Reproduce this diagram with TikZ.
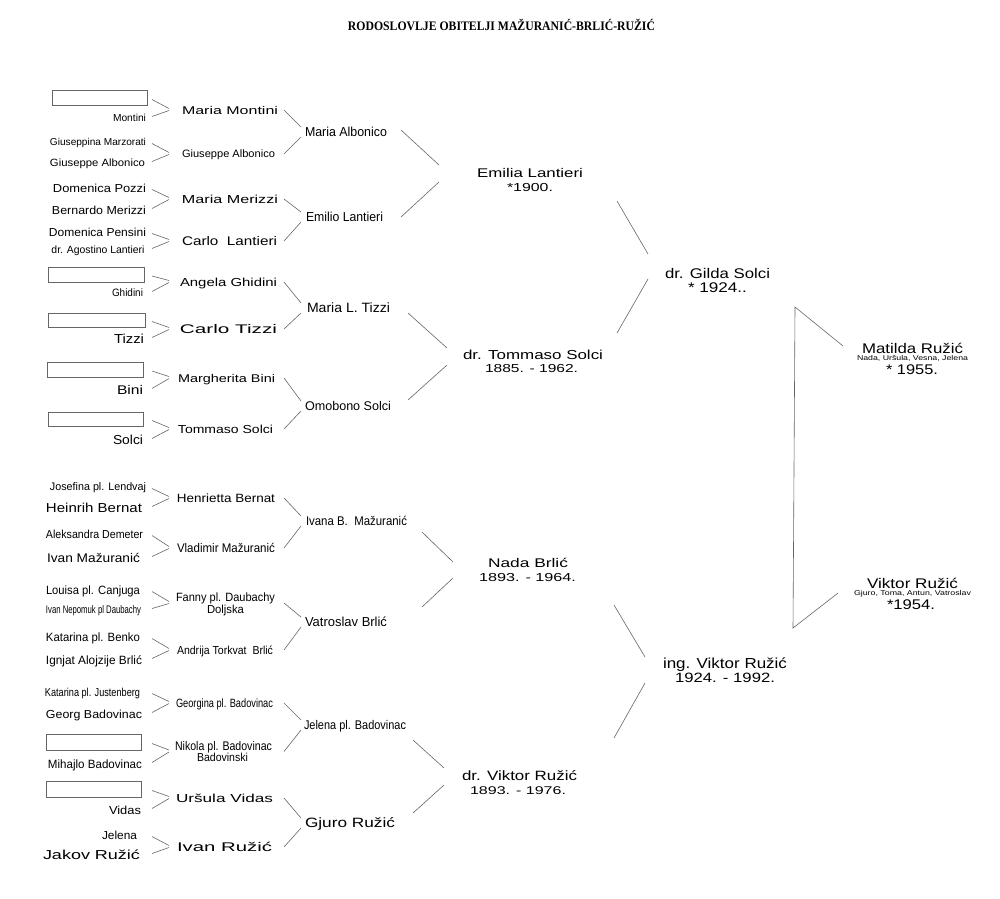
\documentclass[tikz,border=0pt]{standalone}
\usepackage{fontspec}
\usepackage{graphicx}
\setmainfont{Liberation Sans}
\newfontfamily\titlefont{Liberation Serif}
\usetikzlibrary{calc}
\newcommand\tw[2]{\resizebox{#1pt}{\height}{#2}}
\tikzset{
  txt/.style={inner sep=0pt, outer sep=0pt, anchor=center, text=black, text depth=0pt},
  con/.style={draw=black!60, line width=0.6pt},
  emptybox/.style={draw=black!60, line width=0.7pt, inner sep=0pt, minimum width=95pt, minimum height=15pt}
}
\newcommand\nm[6]{\node[txt, font=\fontsize{#5}{#5}\selectfont, text height=#5pt*0.716] (#1) at (#2,#3) {\tw{#4}{#6}};}
\newcommand\chev[9]{%
  \draw[con] ($(#1 -| #4,0)+(0,#6)$) -- ($(#3 -| #5,0)+(0,#7)$);
  \draw[con] ($(#2 -| #4,0)+(0,#8)$) -- ($(#3 -| #5,0)+(0,#9)$);}
\newcommand\chevA[3]{\chev{#1}{#2}{#3}{152}{169}{1.5}{-1.5}{-1.5}{0.5}}
\newcommand\chevB[3]{\chev{#1}{#2}{#3}{284}{301}{0}{-5}{0}{5}}
\begin{document}
\begin{tikzpicture}[x=1pt,y=-1pt]
\fill[white] (0,0) rectangle (1000,898);
\useasboundingbox (0,0) rectangle (1000,898);

% title
\node[txt, font=\fontsize{13}{13}\selectfont\titlefont\bfseries, text height=13pt*0.662] (title) at (501.5,26.5) {\tw{307}{RODOSLOVLJE OBITELJI MAŽURANIĆ-BRLIĆ-RUŽIĆ}};

% empty boxes (column 1)
\node[emptybox] (box1) at (99.5,98) {};
\node[emptybox, minimum width=96pt] (box2) at (96,274.5) {};
\node[emptybox, minimum width=97pt, minimum height=14pt] (box3) at (96.5,320) {};
\node[emptybox, minimum width=96pt] (box4) at (95,369.5) {};
\node[emptybox, minimum height=14pt] (box5) at (95.5,419) {};
\node[emptybox, minimum height=16pt] (box6) at (93.5,742) {};
\node[emptybox, minimum height=16pt] (box7) at (93.5,789) {};

% column 1
\nm{montini}{129.5}{118}{33}{10.2}{Montini}
\nm{giuseppina}{98}{142}{96}{10}{Giuseppina Marzorati}
\nm{giuseppeA}{97.5}{163}{95}{10.5}{Giuseppe Albonico}
\nm{domenicaPo}{99.5}{188}{93}{11.6}{Domenica Pozzi}
\nm{bernardo}{99}{210}{94}{11.6}{Bernardo Merizzi}
\nm{domenicaPe}{97.5}{232}{97}{11.6}{Domenica Pensini}
\nm{agostino}{98}{250}{93}{10.5}{dr. Agostino Lantieri}
\nm{ghidini}{127.5}{293}{31}{10.7}{Ghidini}
\nm{tizzi}{129}{339}{30}{13}{Tizzi}
\nm{bini}{130}{390}{26}{12.6}{Bini}
\nm{solci}{128}{440}{30}{13}{Solci}
\nm{josefina}{98}{487}{96}{11}{Josefina pl. Lendvaj}
\nm{heinrih}{94}{508}{96}{13}{Heinrih Bernat}
\nm{aleksandra}{94.5}{534}{97}{11.6}{Aleksandra Demeter}
\nm{ivanM}{93.5}{558}{93}{12.5}{Ivan Mažuranić}
\nm{louisa}{93}{590}{94}{12}{Louisa pl. Canjuga}
\nm{nepomuk}{93.5}{610}{95}{11}{Ivan Nepomuk pl Daubachy}
\nm{katarinaB}{93}{637}{94}{12}{Katarina pl. Benko}
\nm{ignjat}{94}{660}{96}{12}{Ignjat Alojzije Brlić}
\nm{katarinaJ}{92.5}{692}{95}{11.5}{Katarina pl. Justenberg}
\nm{georg}{94}{714}{96}{11.6}{Georg Badovinac}
\nm{mihajlo}{95}{764}{94}{12}{Mihajlo Badovinac}
\nm{vidas}{125}{810}{32}{11.6}{Vidas}
\nm{jelena}{119.5}{835}{35}{11.6}{Jelena}
\nm{jakov}{91.5}{855}{97}{13}{Jakov Ružić}

% column 2
\nm{mariaMontini}{230}{110}{96}{11.2}{Maria Montini}
\nm{giuseppeB}{228.5}{154}{93}{10.7}{Giuseppe Albonico}
\nm{mariaMerizzi}{230}{199}{96}{11.6}{Maria Merizzi}
\nm{carloL}{229.5}{241}{95}{12.5}{Carlo\ \ Lantieri}
\nm{angela}{228.5}{282}{97}{11.6}{Angela Ghidini}
\nm{carloT}{228.5}{329}{97}{12.5}{Carlo Tizzi}
\nm{margherita}{226.5}{378}{97}{11.2}{Margherita Bini}
\nm{tommasoS}{225.5}{429}{95}{11.6}{Tommaso Solci}
\nm{henrietta}{226}{498}{98}{12}{Henrietta Bernat}
\nm{vladimir}{226}{548}{98}{12.5}{Vladimir Mažuranić}
\nm{fanny}{225.5}{597}{99}{12}{Fanny pl. Daubachy}
\nm{fanny2}{225.5}{609}{37}{11.6}{Doljska}
\nm{andrija}{225}{650}{96}{11.6}{Andrija Torkvat\ \ Brlić}
\nm{georgina}{224.5}{703}{97}{12}{Georgina pl. Badovinac}
\nm{nikola}{223.5}{746}{97}{12.5}{Nikola pl. Badovinac}
\nm{nikola2}{222.5}{757}{51}{11.6}{Badovinski}
\nm{ursula}{224.5}{798}{97}{11.6}{Uršula Vidas}
\nm{ivanR}{224.5}{847}{95}{12.6}{Ivan Ružić}
\coordinate (fannyM) at ($(fanny)!0.5!(fanny2)$);
\coordinate (nikolaM) at ($(nikola)!0.5!(nikola2)$);

% column 3
\nm{mariaAlb}{346}{132}{82}{13}{Maria Albonico}
\nm{emilio}{344.5}{217}{77}{13}{Emilio Lantieri}
\nm{mariaLT}{348.5}{308}{83}{13.5}{Maria L. Tizzi}
\nm{omobono}{348}{406}{86}{12.6}{Omobono Solci}
\nm{ivana}{356.5}{521}{101}{12.6}{Ivana B.\ \ Mažuranić}
\nm{vatroslav}{346}{622}{82}{13}{Vatroslav Brlić}
\nm{jelenaB}{355}{725}{102}{12.6}{Jelena pl. Badovinac}
\nm{gjuro}{350}{823}{90}{13.5}{Gjuro Ružić}

% column 4
\nm{emilia}{530}{173}{106}{12.6}{Emilia Lantieri}
\nm{emilia2}{530}{187}{46}{11.6}{*1900.}
\nm{tommasoD}{533}{355}{140}{13}{dr. Tommaso Solci}
\nm{tommasoD2}{531.5}{368}{93}{11.6}{1885. - 1962.}
\nm{nada}{528}{563}{80}{12.6}{Nada Brlić}
\nm{nada2}{527.5}{577}{97}{11.6}{1893. - 1964.}
\nm{viktorD}{519.5}{776}{115}{13.5}{dr. Viktor Ružić}
\nm{viktorD2}{518}{790}{96}{11.2}{1893. - 1976.}

% column 5
\nm{gilda}{717.5}{273}{105}{14}{dr. Gilda Solci}
\nm{gilda2}{717.5}{287}{59}{14}{* 1924..}
\nm{viktorI}{725}{663}{124}{14.5}{ing. Viktor Ružić}
\nm{viktorI2}{725}{678}{100}{13.5}{1924. - 1992.}

% column 6
\nm{matilda}{912.5}{348}{101}{14}{Matilda Ružić}
\nm{matilda2}{912.5}{358}{111}{7}{Nada, Uršula, Vesna, Jelena}
\nm{matilda3}{912}{369}{52}{14}{* 1955.}
\nm{viktor}{912.5}{583}{91}{14}{Viktor Ružić}
\nm{viktor2}{912.5}{593}{117}{7}{Gjuro, Toma, Antun, Vatroslav}
\nm{viktor3}{911}{604}{48}{14}{*1954.}

% connectors column 1 -> 2
\chevA{box1}{montini}{mariaMontini}
\chevA{giuseppina}{giuseppeA}{giuseppeB}
\chevA{domenicaPo}{bernardo}{mariaMerizzi}
\chevA{domenicaPe}{agostino}{carloL}
\chevA{box2}{ghidini}{angela}
\chevA{box3}{tizzi}{carloT}
\chevA{box4}{bini}{margherita}
\chevA{box5}{solci}{tommasoS}
\chevA{josefina}{heinrih}{henrietta}
\chevA{aleksandra}{ivanM}{vladimir}
\chevA{louisa}{nepomuk}{fannyM}
\chevA{katarinaB}{ignjat}{andrija}
\chevA{katarinaJ}{georg}{georgina}
\chevA{box6}{mihajlo}{nikolaM}
\chevA{box7}{vidas}{ursula}
\chevA{jelena}{jakov}{ivanR}

% connectors column 2 -> 3
\chevB{mariaMontini}{giuseppeB}{mariaAlb}
\chevB{mariaMerizzi}{carloL}{emilio}
\chevB{angela}{carloT}{mariaLT}
\chevB{margherita}{tommasoS}{omobono}
\chevB{henrietta}{vladimir}{ivana}
\chevB{fannyM}{andrija}{vatroslav}
\chevB{georgina}{nikolaM}{jelenaB}
\chevB{ursula}{ivanR}{gjuro}

% connectors column 3 -> 4
\chev{mariaAlb}{emilio}{emilia}{401}{439}{-2}{-8}{0}{9}
\chev{mariaLT}{omobono}{tommasoD}{408}{447}{5}{-7}{-6}{10}
\chev{ivana}{vatroslav}{nada}{422}{453}{11}{-1}{-15}{15}
\chev{jelenaB}{gjuro}{viktorD}{413}{444}{15}{-8}{-10}{9}

% connectors column 4 -> 5
\chev{emilia}{tommasoD}{gilda}{617}{648}{28}{-19}{-22}{6}
\chev{nada}{viktorD}{viktorI}{614}{645}{42}{-6}{-38}{20}

% children
\coordinate (tt) at (795,307);
\coordinate (tb) at (793,628);
\draw[con] ($(matilda.west)+(-19,-2)$) -- (tt) -- (tb) -- ($(viktor.west)+(-29,10)$);
\end{tikzpicture}
\end{document}
